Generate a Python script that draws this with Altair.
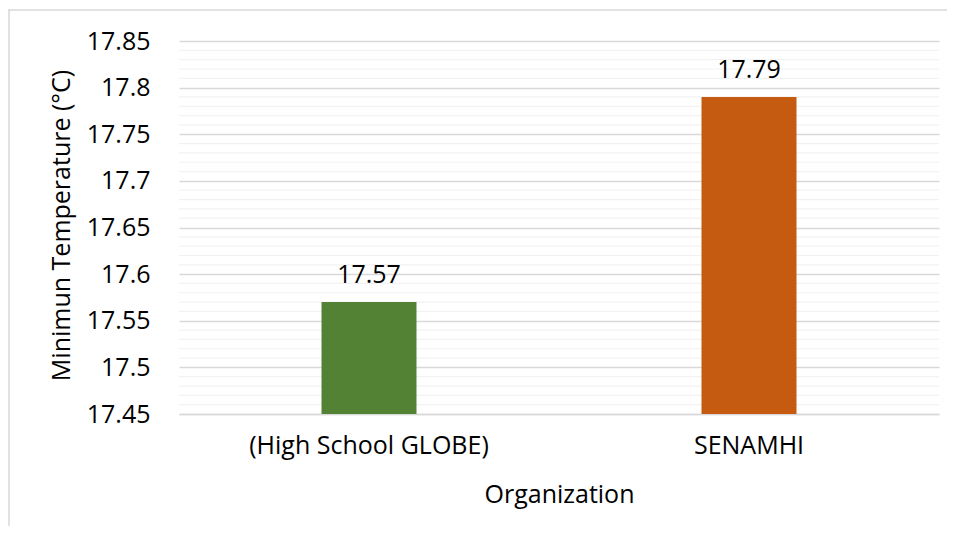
import altair as alt
import pandas as pd

# ---- data ----
categories = ["(High School GLOBE)", "SENAMHI"]
values = [17.57, 17.79]
bar_colors = ["#548235", "#C55A11"]
y_min, y_max = 17.45, 17.85
major_ticks = [17.45, 17.5, 17.55, 17.6, 17.65, 17.7, 17.75, 17.8, 17.85]
minor_ticks = [round(y_min + 0.01 * i, 2) for i in range(41) if i % 5 != 0]

FONT = "Open Sans"
FS = 25

df = pd.DataFrame({"Organization": categories, "value": values})
minor_df = pd.DataFrame({"v": minor_ticks})
one = pd.DataFrame({"a": [0]})

yscale = alt.Scale(domain=[y_min, y_max], zero=False, nice=False)
xscale = alt.Scale(paddingInner=0.75, paddingOuter=0.375)

yaxis = alt.Axis(title="Minimun Temperature (°C)", values=major_ticks,
                 format="~g", ticks=False, domain=False, labelPadding=29,
                 gridColor="#D9D9D9", gridWidth=1.5,
                 titleX=-118, titleY=184, titleAngle=-90,
                 titleAlign="center", titleBaseline="middle")

minor = alt.Chart(minor_df).mark_rule(color="#F2F2F2", strokeWidth=1.2).encode(
    y=alt.Y("v:Q", scale=yscale, axis=yaxis, title="Minimun Temperature (°C)")
)

bars = alt.Chart(df).mark_bar().encode(
    x=alt.X("Organization:N", sort=categories, scale=xscale,
            axis=alt.Axis(title="Organization", labelAngle=0, labelPadding=19,
                          labelLimit=0, ticks=False, domainColor="#D9D9D9", domainWidth=1.5,
                          titleY=68, titleBaseline="top", labelBaseline="top")),
    y=alt.Y("value:Q", scale=yscale, axis=yaxis, title="Minimun Temperature (°C)"),
    y2=alt.datum(y_min),
    color=alt.Color("Organization:N", scale=alt.Scale(domain=categories, range=bar_colors), legend=None),
)

labels = alt.Chart(df).mark_text(baseline="alphabetic", dy=-19, font=FONT, fontSize=FS, color="#000000").encode(
    x=alt.X("Organization:N", sort=categories, scale=xscale),
    y=alt.Y("value:Q", scale=yscale),
    text=alt.Text("value:Q", format=".2f"),
)

top_border = alt.Chart(one).mark_rule(color="#D9D9D9", strokeWidth=1.5).encode(
    x=alt.value(-171), x2=alt.value(770), y=alt.value(-31)
)
left_border = alt.Chart(one).mark_rule(color="#D9D9D9", strokeWidth=1.5).encode(
    x=alt.value(-170), y=alt.value(-31), y2=alt.value(490)
)

chart = alt.layer(minor, bars, labels, top_border, left_border).properties(
    width=760, height=373,
    autosize=alt.AutoSizeParams(type="none"),
    padding={"left": 171, "top": 33, "right": 8, "bottom": 112},
    background="white",
).configure_view(stroke=None).configure_axis(
    labelFont=FONT, labelFontSize=FS, labelColor="#000000", labelLimit=0,
    titleFont=FONT, titleFontSize=FS, titleColor="#000000", titleFontWeight="normal",
)

chart.save("out.html", embed_options={"renderer": "svg", "actions": False})
